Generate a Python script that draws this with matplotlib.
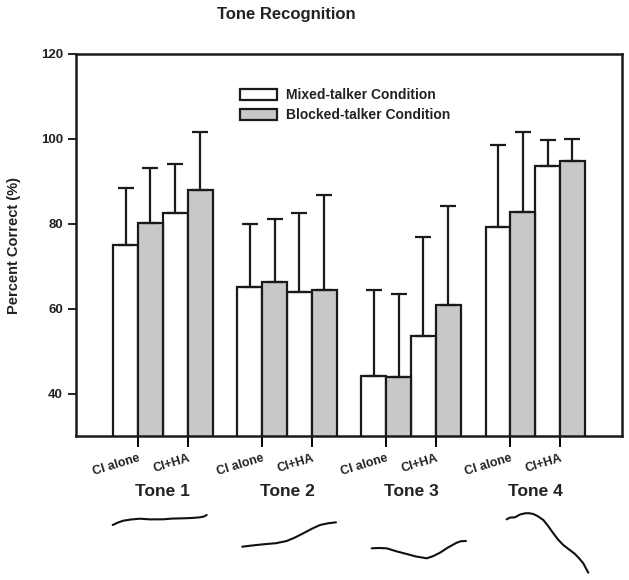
import numpy as np
import matplotlib
matplotlib.use('Agg')
import matplotlib.pyplot as plt

plt.rcParams['font.family'] = ['Liberation Sans', 'DejaVu Sans']
plt.rcParams['font.weight'] = 'bold'
plt.rcParams['axes.labelweight'] = 'bold'

tones = ['Tone 1', 'Tone 2', 'Tone 3', 'Tone 4']
devices = ['CI alone', 'CI+HA']
# order: Tone1 CI alone, Tone1 CI+HA, Tone2 CI alone, ...
mixed_mean = [74.9, 82.6, 65.0, 63.9, 44.2, 53.6, 79.2, 93.5]
mixed_sd = [13.5, 11.4, 14.9, 18.7, 20.3, 23.2, 19.4, 6.3]
blocked_mean = [80.2, 88.0, 66.3, 64.4, 43.9, 60.9, 82.8, 94.7]
blocked_sd = [13.0, 13.6, 14.9, 22.3, 19.5, 23.3, 18.8, 5.2]
series = ['Mixed-talker Condition', 'Blocked-talker Condition']

# hand drawn pitch contours (figure pixels, origin top left)
contour1 = [(112.7, 525), (118, 522.5), (123.3, 520.7), (131, 519.5), (140, 518.7), (150, 519.4), (163.3, 519.3),
            (172, 518.6), (183.3, 518.3), (192, 518.0), (200, 517.3), (204, 516.5), (206.7, 515)]
contour2 = [(242.3, 546.7), (252, 545.5), (263.3, 544.3), (276, 543.2), (286.7, 541), (295, 537.5), (303.3, 533.3),
            (312, 528.7), (320, 525), (328, 523.3), (336, 522.3)]
contour3 = [(371.7, 548.3), (379, 548.0), (386.7, 548.3), (396, 551.2), (406.7, 554), (416, 556.5), (426.7, 558.3),
            (433, 556.2), (440, 552.7), (448, 547.5), (456.7, 542.7), (461, 541.2), (466, 541)]
contour4 = [(506.7, 519.3), (510, 517.6), (515, 517.3), (520, 514.5), (525, 513.3), (529, 513.2), (533.3, 514),
            (538, 516.3), (543.3, 520), (548, 525.8), (553.3, 533.3), (558, 539.5), (563.3, 545), (569, 549.4),
            (575, 554), (579, 558.2), (583.3, 563.3), (585.5, 567.5), (588.3, 572.7)]

W, H = 629, 580
fig = plt.figure(figsize=(W / 100, H / 100), dpi=100)
ax = fig.add_axes([76 / W, 1 - 436 / H, (622 - 76) / W, (436 - 54) / H])

idx = np.arange(len(mixed_mean))
tone_i = idx // 2
dev_j = idx % 2
x_mixed = 2 + 5 * tone_i + 2 * dev_j
x_blocked = x_mixed + 1

zeros = np.zeros(len(idx))
ax.bar(x_mixed, mixed_mean, width=1, color='white', edgecolor='#1a1a1a', lw=1.6,
       yerr=[zeros, mixed_sd], error_kw=dict(ecolor='#1a1a1a', elinewidth=1.6, capsize=5.5, capthick=1.6),
       label=series[0], zorder=2)
ax.bar(x_blocked, blocked_mean, width=1, color='#c8c8c8', edgecolor='#1a1a1a', lw=1.6,
       yerr=[zeros, blocked_sd], error_kw=dict(ecolor='#1a1a1a', elinewidth=1.6, capsize=5.5, capthick=1.6),
       label=series[1], zorder=2)

ax.set_xlim(0, 22)
ax.set_ylim(30, 120)
ax.set_yticks([40, 60, 80, 100, 120])
ax.tick_params(axis='y', direction='out', length=6, width=1.4, labelsize=9.5, colors='#222222')
ax.set_xticks(x_mixed + 0.5)
ax.set_xticklabels([devices[j] for j in dev_j], rotation=17, ha='right', va='top',
                   rotation_mode='anchor', fontsize=9, color='#222222')
ax.tick_params(axis='x', direction='out', length=8, width=1.4, pad=4)
for s in ax.spines.values():
    s.set_linewidth(1.8)
    s.set_color('#1a1a1a')

ax.set_ylabel('Percent Correct (%)', fontsize=10.5, labelpad=14, color='#222222')

leg = ax.legend(loc='upper left', bbox_to_anchor=(0.29, 0.925), frameon=False, fontsize=10,
                handlelength=2.7, handleheight=0.85, handletextpad=0.6, labelspacing=0.45,
                borderaxespad=0)
for t in leg.get_texts():
    t.set_color('#222222')

fig.text(286 / W, 1 - 14 / H, 'Tone Recognition', ha='center', va='center', fontsize=12, color='#222222')

for i, name in enumerate(tones):
    ax.annotate(name, xy=(3.5 + 5 * i, 0), xycoords=('data', 'figure pixels'),
                xytext=(0, H - 492), textcoords='offset pixels',
                ha='center', va='center', fontsize=12.5, color='#222222')

ov = fig.add_axes([0, 0, 1, 1])
ov.set_xlim(0, W)
ov.set_ylim(H, 0)
ov.axis('off')
ov.patch.set_visible(False)
for c in [contour1, contour2, contour3, contour4]:
    c = np.array(c)
    ov.plot(c[:, 0], c[:, 1], color='#111111', lw=1.5, solid_capstyle='round')

fig.savefig('out.png', dpi=100)
